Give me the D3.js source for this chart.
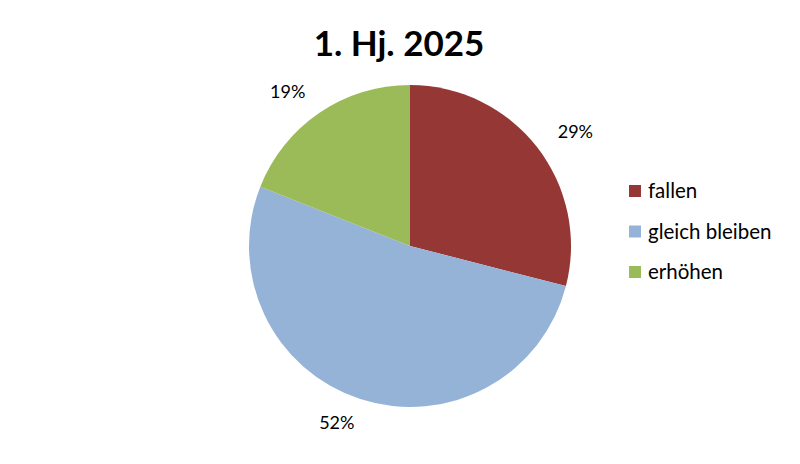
<!DOCTYPE html>
<html><head><meta charset="utf-8">
<script src="https://cdn.jsdelivr.net/npm/d3@7"></script>
<style>body{margin:0;background:#fff}svg{display:block}text{font-family:Lato,"Open Sans",sans-serif}</style>
</head><body><svg id="c" width="800" height="464"></svg>
<script>
const title = "1. Hj. 2025";
const categories = ["fallen", "gleich bleiben", "erhöhen"];
const values = [29, 52, 19];
const colors = ["#953735", "#95B3D7", "#9BBB59"];
const labels = ["29%", "52%", "19%"];

const svg = d3.select("#c");
const cx = 410, cy = 246, r = 161;

svg.append("text").attr("x", 399).attr("y", 56).attr("text-anchor", "middle")
  .attr("font-size", 35).attr("font-weight", "bold").attr("fill", "#000").text(title);

const pie = d3.pie().sort(null).value(d => d)(values);
const arc = d3.arc().innerRadius(0).outerRadius(r);
const g = svg.append("g").attr("transform", `translate(${cx},${cy})`);
g.selectAll("path").data(pie).join("path").attr("d", arc).attr("fill", (d, i) => colors[i]);

function labelPos(d) {
  const a = (d.startAngle + d.endAngle) / 2;
  const s = Math.sin(a), c = Math.cos(a);
  return [s * 200 + Math.sign(s) * Math.abs(c) * 12, -c * 186];
}
g.selectAll("text.lbl").data(pie).join("text").attr("class", "lbl")
  .attr("transform", d => { const p = labelPos(d); return `translate(${p[0]},${p[1]})`; })
  .attr("text-anchor", "middle").attr("dy", "0.35em").attr("font-size", 18).attr("fill", "#000")
  .text((d, i) => labels[i]);

const leg = svg.append("g").attr("transform", "translate(629,185)");
const rows = leg.selectAll("g").data(categories).join("g").attr("transform", (d, i) => `translate(0,${i * 40.5})`);
rows.append("rect").attr("width", 12).attr("height", 12).attr("fill", (d, i) => colors[i]);
rows.append("text").attr("x", 19).attr("y", 6).attr("dy", "0.35em").attr("font-size", 20.5).attr("fill", "#000").text(d => d);
</script></body></html>
